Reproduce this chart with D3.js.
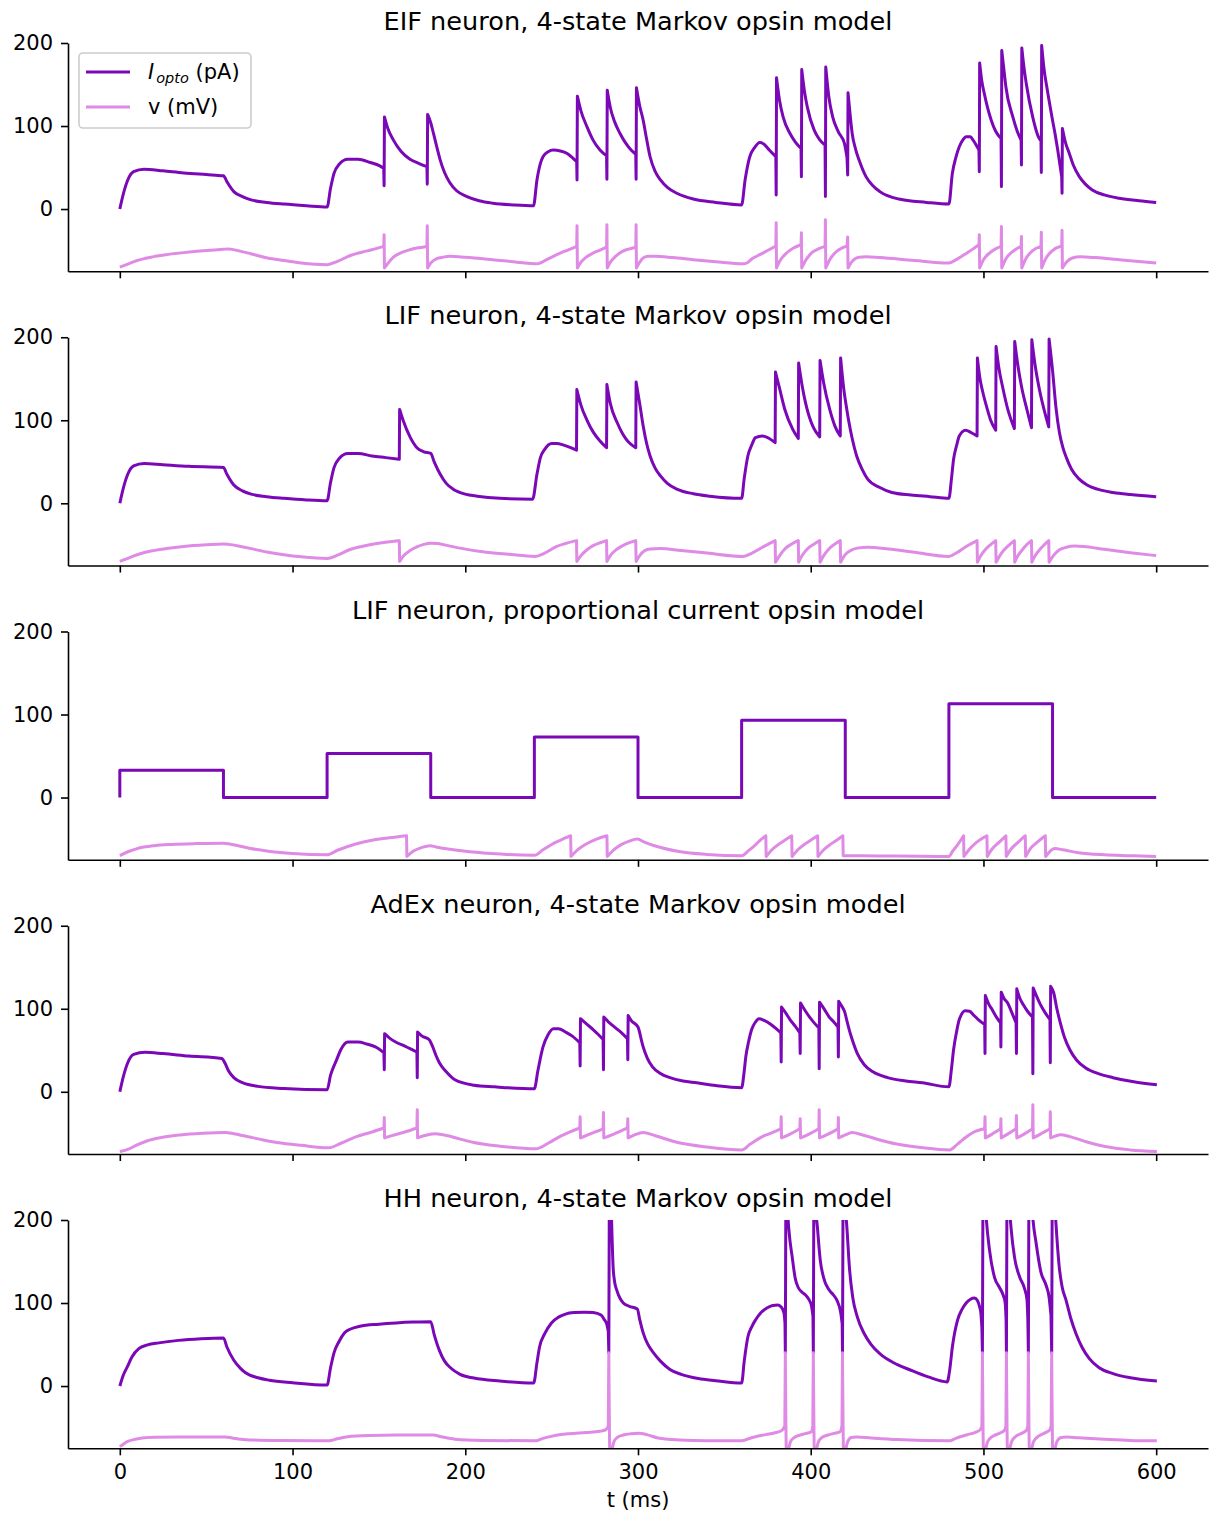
<!DOCTYPE html>
<html>
<head>
<meta charset="utf-8">
<script src="https://cdn.jsdelivr.net/npm/d3@7"></script>
<style>
body { margin: 0; background: #fff; }
svg text { font-family: "DejaVu Sans", sans-serif; fill: #000; }
</style>
</head>
<body>
<svg id="chart" width="1210" height="1515"></svg>
<script>
'use strict';

// ---- data (t in ms) ----
var panelTitles = [
    "EIF neuron, 4-state Markov opsin model",
    "LIF neuron, 4-state Markov opsin model",
    "LIF neuron, proportional current opsin model",
    "AdEx neuron, 4-state Markov opsin model",
    "HH neuron, 4-state Markov opsin model"
];
var xTicks = [0, 100, 200, 300, 400, 500, 600];
var yTicks = [0, 100, 200];
var seriesNames = ["I_opto (pA)", "v (mV)"];

var eifI = [[0,0],[2,18],[4.6,35],[8,45],[14,48],[25,46],[37,43.5],[50,41.5],[60,40],
    [62,33],[66,21],[71,15],[76,11],[85,8],[95,6],[108,4],[120,2.5],
    [122,25],[124,43],[127,54],[132,60],[138,60],[145,56],[150.5,52],[152.8,49],[153,28],[153.2,111],
    [155,98],[158.4,83],[163,69],[168,60],[173,55],[177.8,51],[178,30],[178.2,114],
    [180,104],[181.6,91],[183.5,75],[185.5,59],[188,44],[191,32],[195,22],[201,15],[208,10],[216,7],[228,5],[239.5,4],
    [241.5,35],[243.5,55],[245,63],[248,69],[251,71],[255,70],[259,67],[262,62],[264.5,57],[264.7,35],[264.9,136],
    [267,118],[270.5,99],[274,83],[278,71],[281.8,64],[282,36],[282.2,143],
    [284,122],[286.5,105],[289.6,91],[293,79],[296,71],[298.7,66],[298.9,36],[299.1,146],
    [301,124],[303,107],[305,84],[307,63],[310,45],[313,35],[317,26],[322.5,19],[332,12],[345,8],[360,5],
    [362,35],[364.7,63],[367.5,74],[370.5,80],[373,78],[376,71],[379.8,63],[380,17],[380.2,158],
    [382,130],[384,111],[388,91],[391,81],[394.4,73],[394.6,39],[394.8,168],
    [396.5,140],[398,123],[402,95],[405,84],[408.3,77],[408.5,15],[408.7,171],
    [410.5,135],[412.7,111],[416,93],[419.5,79],[421,62],[421.4,41],[421.6,140],
    [423,110],[424,91],[426,72],[428,59],[432,39],[436,28],[440,21],[451,12],[467,8],[480,6],
    [482,43],[484,62],[486,75],[488,83],[490,87],[492.5,87],[494,83],[497.4,71],[497.6,45],[497.8,176],
    [499,155],[500.5,139],[504.5,107],[507,94],[510.2,85],[510.4,27],[510.6,191],
    [512,165],[513,147],[517,111],[519.5,94],[521.8,83],[522,53],[522.2,194],
    [523.5,170],[524.8,151],[528.5,111],[531.8,87],[533.3,82],[533.5,44],[533.7,197],
    [535,170],[537,143],[540,107],[541.5,90],[543,71],[545.3,39],[545.5,19],[545.7,97],
    [547.5,80],[549.7,67],[552,53],[555.5,39],[559,30],[563,23],[570,17],[578.6,13],[590,10],[600,8]];

var eifV = [[0,-70],[5,-66],[10,-62],[18,-58],[27,-55],[37,-52.5],[50,-50],[60,-48.5],[63,-48],[70,-51],[78,-55],[85.5,-59],[95,-62],[105,-65],[120,-67],
    [126,-63],[133.5,-56],[140,-52],[146,-49],[152.8,-45],[153,-31],[153.2,-71],
    [155,-66],[158.4,-58],[163,-52.5],[168,-49],[172,-47],[177.8,-45],[178,-20],[178.2,-71],
    [180,-65],[183.7,-59.5],[187,-58],[191,-57],[200,-58],[216,-61],[230,-64],[241.5,-66],
    [248,-60],[255,-53],[260,-49],[264.5,-45],[264.7,-20],[264.9,-71],
    [267,-64],[270,-58],[274,-53],[278,-49.5],[281.8,-46],[282,-19],[282.2,-71],
    [284,-64],[287,-57],[291,-51],[295,-48],[298.7,-46],[298.9,-19],[299.1,-71],
    [301,-64],[303,-59],[306,-57],[310,-57],[320,-58.5],[332,-61],[345,-63.5],[361,-66],
    [363,-65],[366,-60],[370.5,-55],[375,-50],[379.8,-44.6],[380,-16.5],[380.2,-71],
    [382,-63],[386,-53],[390,-47],[394.4,-43],[394.6,-28.5],[394.8,-71],
    [397,-62],[401,-52],[405,-47.5],[408.3,-45],[408.5,-13],[408.7,-71],
    [411,-61],[415,-51],[418,-47],[421,-44.6],[421.4,-33.7],[421.6,-71],
    [424,-63],[428,-58],[432,-57.5],[440,-58.5],[460,-62],[480,-65],
    [485,-60],[490,-53.5],[494,-48],[497.4,-43],[497.6,-31],[497.8,-71],
    [500,-61],[503.5,-53],[507,-48],[510.2,-45],[510.4,-21],[510.6,-71],
    [513,-60],[517,-51],[521.8,-45],[522,-33],[522.2,-71],
    [524.5,-60],[528.5,-50],[533.3,-45],[533.5,-28],[533.7,-71],
    [536,-60],[540,-50],[545.3,-44.6],[545.5,-25.6],[545.7,-71],
    [548,-64],[551.5,-59],[556,-57.5],[565,-58.5],[580,-61.5],[600,-65]];

var lifI = [[0,0],[2,18],[4.6,35],[8,45],[14,48],[25,46.5],[40,44.5],[60,43],
    [62,35],[66,22],[71,15],[76,11],[85,8],[95,6],[108,4],[120,3],
    [122,25],[124,43],[127,54],[132,60],[138,60],[146,57],[154,55],[161.8,53],[162,113],
    [164,100],[168,80],[172,67],[176,62],[180,60],[182,50],[185.5,35],[189,24],[193,17],[200,11],[207,8.5],[220,6],[239,5],
    [241.5,35],[243.5,55],[246,65],[250,72],[253,72],[257,70],[261,67],[264.4,64],[264.6,137],
    [267,118],[270.5,100],[274,86],[278,75],[281.8,67],[282,143],
    [284,120],[288,97],[291,84],[293.6,76],[296,71],[298.7,67],[298.9,146],
    [301,120],[303,93],[305,72],[307,57],[310,42],[313,33],[317,24],[322.5,17],[332,11.5],[341.6,8.6],[360,6],
    [361.5,30],[363.6,57],[366,71],[368,79],[372,81],[376,78],[379.4,73],[379.6,158],
    [382,138],[385,113],[389.6,89],[392.8,78],[393,169],
    [395,142],[397,121],[401.6,91],[405.2,80],[405.4,172],
    [407.5,145],[411,113],[414,93],[417.1,81],[417.3,175],
    [419,140],[420.5,118],[422,99],[424,78],[426.6,57],[430,40],[433,29],[440,19],[447,13],[458,10],[469,8],[480,6],
    [481.5,30],[482.7,53],[484.5,70],[486,81],[489.6,88],[493,85],[496.3,81],[496.5,175],
    [498,150],[499.6,134],[502,115],[504,101],[507.1,88],[507.3,189],
    [509,162],[511,141],[514.5,110],[517.9,90],[518.1,195],
    [520,165],[522,141],[525.5,110],[527.8,91],[528,197],
    [530,165],[532.4,137],[535.8,107],[537.8,92],[538,198],
    [540,160],[542,115],[544,85],[546,67],[548,55],[551,41],[555,30],[560,22],[566,17],[575,13],[585,10.5],[600,8]];

var lifV = [[0,-70],[5,-66],[10,-62],[18,-57.5],[27,-54.5],[37,-52],[50,-50],[60,-49],[63,-49.5],[70,-52],[78,-55.5],[86,-59],[95,-62],[105,-64.5],[120,-66.5],
    [126,-62.5],[133,-56],[140,-52],[147,-49],[155,-46.5],[161.8,-45],[162,-70],
    [164,-64],[168,-57],[172,-52.5],[176,-49.5],[180,-48],[184,-48.5],[190,-51],[197,-54],[210,-58.5],[225,-61.5],[240.5,-64],
    [246,-60],[253,-52],[258,-48.5],[264.4,-45],[264.6,-70],
    [267,-63],[270.5,-56],[274,-51],[278,-47.5],[281.8,-45],[282,-70],
    [284,-63],[288,-55],[292,-50],[295.5,-47],[298.7,-45],[298.9,-70],
    [301,-63],[304,-57],[307,-55],[313,-54.5],[325,-57],[340,-60],[361,-64],
    [366,-60],[372,-53],[376,-48.5],[379.4,-45],[379.6,-71],
    [382,-63],[385,-55],[389,-49],[392.8,-45],[393,-71],
    [395,-63],[398,-55],[402,-49],[405.2,-45],[405.4,-71],
    [407.5,-63],[410.5,-55],[414,-49],[417.1,-45],[417.3,-71],
    [419.5,-63],[423,-57],[427,-54],[433,-53],[445,-55],[460,-59],[480,-64],
    [485,-59],[490,-52],[493.5,-48],[496.3,-45],[496.5,-71],
    [498.5,-63],[501,-56],[504,-50],[507.1,-45],[507.3,-71],
    [509.5,-63],[512,-56],[515,-50],[517.9,-45],[518.1,-71],
    [520,-63],[522.5,-56],[525,-50],[527.8,-45],[528,-71],
    [530,-63],[532.5,-56],[535.2,-50],[537.8,-45],[538,-71],
    [540.5,-63],[544,-56],[548,-53],[552.6,-51.5],[558,-52],[570,-55.5],[585,-59.5],[600,-63]];

var propI = [[0,0],[0,33],[60,33],[60,0],[120,0],[120,53],[180,53],[180,0],[240,0],[240,73],[300,73],[300,0],
    [360,0],[360,93],[420,93],[420,0],[480,0],[480,113],[540,113],[540,0],[600,0]];

var propV = [[0,-70],[5,-65],[10,-61.5],[20,-58],[30,-56.5],[45,-55.5],[60,-55],[65,-56.5],[75,-61],[87,-65],[100,-67.5],[120,-69],
    [126,-63.5],[136.6,-56],[146,-51.5],[156,-48.5],[166,-46],[166.2,-71],
    [170,-64.5],[175,-60],[179.6,-58],[183,-59.5],[190,-62],[199,-64.5],[215,-67.5],[240,-69.5],
    [245,-63],[250,-56.5],[255,-51.5],[261,-46],[261.2,-71],
    [265,-63],[270,-56],[276,-50],[282,-46],[282.2,-71],
    [286,-63],[290,-57],[295,-52.5],[299.6,-50],[304,-54],[311,-59],[323.7,-65],[340,-68.5],[360,-70],
    [364,-64],[368,-57],[371,-51],[374,-46],[374.2,-71],
    [378,-62],[382,-55.5],[386,-50],[389,-46],[389.2,-71],
    [393,-62],[397,-55.5],[401,-50],[404,-46],[404.2,-71],
    [408,-62],[412,-55.5],[416,-50],[418.6,-46],[418.8,-70],[430,-70],[450,-70.5],[480,-71],
    [482,-65],[485,-57],[488.5,-46],[488.7,-71],
    [492,-62],[496,-54],[502,-46],[502.2,-71],
    [505,-62],[509,-54],[513,-46],[513.2,-71],
    [516,-62],[520,-54],[524.2,-46],[524.4,-71],
    [527,-62],[531,-54],[535.8,-46],[536,-71],
    [538,-66],[541.4,-61.5],[546,-63],[555,-66.5],[570,-69],[585,-70],[600,-71]];

var adexI = [[0,0],[2,18],[4.6,35],[8,45],[14.6,47.5],[25,46],[40,43],[59,40],
    [61,34],[63,25],[66,17],[71,11],[80,6.5],[95,4],[120,2.4],
    [122,20],[125.5,38.5],[128,51],[132,60],[138,60],[143,57.5],[148,54],[152.9,47],[153.1,26.5],[153.3,70],
    [156,65],[159.7,60],[165,55],[170,50],[172,48],[172.2,17],[172.4,72],
    [175,67],[179,63],[181,55],[183,44],[185,35],[189,24],[194,14.5],[205,8],[217,6],[240,3.6],
    [242,25],[245,54],[248,69],[251,76],[254,76],[258,72],[262,67],[266.3,59],[266.5,31],[266.7,88],
    [270,82],[274,75],[277,69],[279.8,63],[280,26.5],[280.2,90],
    [283,84],[287,77],[290.5,71],[293.9,64],[294.1,38.5],[294.3,92],
    [296,86],[300,78],[302,62],[303,54],[305.5,40],[308.4,30],[313,22],[318.5,17],[326,13],[334,10.8],[345,7.5],[360,5],
    [361.5,25],[362.4,42],[364,60],[365.8,75],[368,84],[370,88],[373,86],[377,81],[380,76],[382.7,71],[382.9,36],[383.1,102],
    [385.5,95],[388,87],[391,79],[393.7,71],[393.9,46],[394.1,107],
    [397,97],[399.7,89],[402,83],[404.7,77],[404.9,27.7],[405.1,108],
    [408,99],[410.7,90],[413,85],[415.8,78],[416,42],[416.2,109],
    [418,103],[419.7,96],[421,85],[422.5,73],[424,63],[427,46],[431,32.5],[436,24],[444.5,17],[455,13],[464.7,10.8],[480,6],
    [481.5,28],[482.7,50.6],[484.5,73],[486,87],[489.5,97.6],[492,97],[494,93],[497,87],[500.7,81],[500.9,46],[501.1,116],
    [503,106],[505,99],[507.5,90],[509.9,83],[510.1,54],[510.3,120],
    [512,112],[514,107],[516.5,95],[518.9,83],[519.1,46],[519.3,124],
    [521,113],[523,105],[525.5,97],[528.4,90],[528.6,21.7],[528.8,125],
    [531,114],[533,105],[535.5,96],[538.5,87],[538.7,35],[538.9,127],
    [540.7,119],[542.5,100],[544.5,83],[547,65],[550,50.6],[554,38],[559,29],[567,21.5],[575,17],[587,12],[600.4,8.4]];

var adexV = [[0,-72],[5,-69],[10,-64],[16,-59],[22.6,-55.6],[35,-52],[48,-50],[61,-49],[66,-50.5],[75,-54.5],[83,-58],[91,-61],[105,-64.5],[121,-67.5],
    [128,-62],[137,-54],[145,-49],[152.9,-43.6],[153.1,-31],[153.3,-55.6],
    [158,-52.5],[165,-48.5],[172,-43.6],[172.2,-21.7],[172.4,-55.6],
    [176,-53],[182.6,-50.6],[190,-53],[197,-57],[205,-61],[220,-65.5],[240.8,-68.7],
    [248,-62],[255.5,-53],[261,-48],[266.3,-43.6],[266.5,-30],[266.7,-55.6],
    [272,-51],[279.8,-44.6],[280,-25],[280.2,-55.6],
    [286,-51],[293.9,-43.6],[294.1,-32.5],[294.3,-55.6],
    [298,-52],[303,-49],[310,-53],[323,-61],[340,-66.5],[360,-70],
    [365,-63],[372,-54],[378,-49],[382.7,-44.6],[382.9,-30],[383.1,-55.6],
    [388,-51],[393.7,-44.6],[393.9,-32.5],[394.1,-55.6],
    [399,-51],[404.7,-44.6],[404.9,-21.7],[405.1,-55.6],
    [410,-51],[415.8,-44.6],[416,-31],[416.2,-55.6],
    [420,-52],[424,-49],[430,-52],[440,-58],[449,-62.6],[465,-67.5],[480.4,-70],
    [485,-63],[490,-54.5],[494,-49],[500.7,-44.6],[500.9,-30],[501.1,-55.6],
    [505,-51],[509.9,-44.6],[510.1,-32.5],[510.3,-55.6],
    [514,-51],[518.9,-44.6],[519.1,-28.5],[519.3,-55.6],
    [523.5,-51],[528.4,-44.6],[528.6,-15.7],[528.8,-55.6],
    [533,-51],[538.5,-44.6],[538.7,-24],[538.9,-55.6],
    [541.5,-53.5],[544.5,-51.8],[550,-54],[560,-60.5],[570.5,-66],[585,-70],[600.4,-72]];

var hhI = [[0,0],[2,13],[4.3,23],[7,35],[11,45],[16,49.5],[22.6,52],[34,55],[47,57],[60,58],
    [62,47],[66,31],[70,21],[73,15.6],[80,10],[86.6,7],[100,4],[120,1.2],
    [122,22],[124,40],[127,54],[130,64],[134,69],[139,72],[150,74.5],[160,76],[170,77],[180,77.5],
    [182,62],[185,43],[188,30],[191.6,21.7],[197,14],[205,9.6],[220,6],[239.6,3.6],
    [241.5,28],[243,47],[246,63],[249.9,76],[254,83],[258,86.7],[263,88.5],[269,89],[274,88.5],[278.6,85.5],[280.5,80],[282,74],[282.8,66],[283.1,40],[283.5,290],
    [284.5,215],[285.6,143],[286.5,125],[287.7,115.6],[289.5,106],[291.5,100],[295,96],[299.6,92.7],
    [301,80],[303,64],[305.5,51],[309,40],[313,30],[318.5,20],[325,14],[335,9],[345,6.5],[360,3.6],
    [361.5,30],[363.6,59],[366,72],[368,79.5],[371,88],[374.6,94],[378,97],[381,97.5],[383,95],[384.5,88],[385.1,76],[385.3,40],[385.7,290],
    [386.8,205],[387.5,185],[389.3,155],[391,130],[392.7,119],[395,113],[397,109.6],[399,104],[400.5,96],[401.3,84],[401.5,40],[401.9,290],
    [403,215],[404,188],[405.5,152],[407.4,131],[410.7,115.6],[413,110],[415,104],[417.4,88],[418.2,75],[418.4,40],[418.8,290],
    [420,215],[420.8,195],[422.5,140],[424.3,107],[427,83],[431,63],[435,50],[440,39],[448,28],[458,19],[468,11],[479,5],
    [480.5,20],[482,47],[485,79.5],[487.5,92],[490,100],[492.5,104.5],[494.8,106],[496.5,103],[497.8,95],[498.5,88],[499.1,70],[499.4,40],[499.8,290],
    [500.8,230],[501.7,200],[503.5,164],[506.4,131],[509.2,119],[511.5,109],[512.6,100],[513.1,80],[513.3,40],[513.7,290],
    [514.8,225],[516,190],[518,155],[521,131],[523.7,118],[525.2,104],[525.7,80],[526,40],[526.4,290],
    [527.5,240],[528.5,205],[530.5,172],[533.3,137],[536.2,121.7],[538,107],[539.1,85],[539.5,40],[539.9,290],
    [541,230],[542,195],[543.9,143],[545.5,120],[547.8,103.6],[550.5,82],[553.6,63],[557,47],[561.3,33],[567,22],[575,15],[585,10],[600.4,6]];

var hhV = [[0,-73],[2,-70],[4.3,-67],[8,-64.5],[13,-62.6],[20,-61.8],[34,-61.4],[61,-61.4],[65,-62.5],[70,-64],[77.5,-65],[95,-65.7],[121,-66],
    [126,-63.5],[132,-61],[145,-59.5],[160,-59],[181.5,-59],[186,-61],[194,-64],[210,-65.5],[240.8,-66],
    [245,-63],[251,-60],[260,-57.5],[270,-56],[278,-54.5],[281.5,-52.5],[282.8,-48],[283.1,40],[283.8,-88],[284.9,-77],[286.1,-67],[288,-62],[291.5,-59],[296,-57.5],[300.5,-57],[305,-58.5],[311.6,-62.6],[324,-65],[340,-66],[360,-66],
    [364,-63.5],[368,-61],[374,-58.5],[380,-56],[383.5,-53],[385,-48],[385.3,40],[386,-88],[387.1,-77],[388.3,-67],[390.5,-62],[394,-59],[397.5,-57],[400.5,-55],[401.2,-48],[401.5,40],[402.2,-88],[403.3,-77],[404.5,-67],[406.5,-62],[410,-59],[413.5,-57],[417,-55],[418.1,-48],[418.4,40],[419.1,-88],[420.2,-77],[421.4,-67],[423.5,-62],[426.6,-61.4],[435,-62.6],[450,-64.5],[480.4,-66],
    [484,-63],[490,-59],[495,-56],[498,-53],[499.1,-48],[499.4,40],[500.1,-88],[501.2,-77],[502.4,-67],[505,-61],[509.2,-57],[512.3,-53],[513,-48],[513.3,40],[514,-88],[515.1,-77],[516.3,-67],[518.5,-61],[522,-57],[525,-53],[525.7,-48],[526,40],[526.7,-88],[527.8,-77],[529,-67],[531.5,-61],[535,-57],[538.4,-53],[539.2,-48],[539.5,40],[540.2,-88],[541.3,-77],[542.5,-67],[545,-62],[548,-61.4],[555,-62.2],[570,-64],[585,-65.5],[600.4,-66]];

var panelData = [[eifI, eifV], [lifI, lifV], [propI, propV], [adexI, adexV], [hhI, hhV]];

// ---- layout ----
var colI = "#7a08b6", colV = "#df8ae5";
var left = 68, right = 1208;
var firstTop = 43, panelH = 228.3, panelStep = 294.25;
var tickFont = 21, titleFont = 25.6;

var svg = d3.select("#chart");
var x = d3.scaleLinear().domain([-30, 630]).range([left, right]);

// smooth pieces joined by straight near-vertical jumps (spikes / resets)
function tracePath(pts, y) {
    var pieces = [], cur = [pts[0]];
    for (var i = 1; i < pts.length; i++) {
        if (pts[i][0] - pts[i - 1][0] < 0.45) { pieces.push(cur); cur = []; }
        cur.push(pts[i]);
    }
    pieces.push(cur);
    var line = d3.line()
        .x(function(d) { return x(d[0]); })
        .y(function(d) { return y(d[1]); })
        .curve(d3.curveMonotoneX);
    return pieces.map(function(p, k) {
        var d = p.length > 1 ? line(p) : "M" + x(p[0][0]) + "," + y(p[0][1]);
        return k ? "L" + d.slice(1) : d;
    }).join("");
}

panelData.forEach(function(pd, i) {
    var top = firstTop + i * panelStep;
    var y = d3.scaleLinear().domain([-75, 200]).range([top + panelH, top]);
    var g = svg.append("g");

    g.append("clipPath").attr("id", "clip" + i)
        .append("rect")
        .attr("x", left).attr("y", top)
        .attr("width", right - left).attr("height", panelH);

    var lines = g.append("g").attr("clip-path", "url(#clip" + i + ")");
    lines.append("path")
        .attr("d", tracePath(pd[0], y))
        .attr("fill", "none").attr("stroke", colI)
        .attr("stroke-width", 3).attr("stroke-linejoin", "round");
    lines.append("path")
        .attr("d", tracePath(pd[1], y))
        .attr("fill", "none").attr("stroke", colV)
        .attr("stroke-width", 3).attr("stroke-linejoin", "round");

    var yAxis = g.append("g")
        .attr("transform", "translate(" + left + ",0)")
        .call(d3.axisLeft(y).tickValues(yTicks).tickSize(7).tickSizeOuter(0).tickPadding(8));
    var xAxis = g.append("g")
        .attr("transform", "translate(0," + (top + panelH) + ")")
        .call(d3.axisBottom(x).tickValues(xTicks).tickSize(7).tickSizeOuter(0).tickPadding(9)
            .tickFormat(i === 4 ? d3.format("d") : function() { return ""; }));

    [yAxis, xAxis].forEach(function(a) {
        a.attr("font-size", null).attr("font-family", null);
        a.selectAll("path, line").attr("stroke", "#000").attr("stroke-width", 1.6);
        a.selectAll("text").attr("font-size", tickFont).attr("fill", "#000");
    });

    g.append("text")
        .attr("x", (left + right) / 2).attr("y", top - 13)
        .attr("text-anchor", "middle").attr("font-size", titleFont)
        .text(panelTitles[i]);
});

svg.append("text")
    .attr("x", (left + right) / 2).attr("y", 1507)
    .attr("text-anchor", "middle").attr("font-size", tickFont)
    .text("t (ms)");

// legend in the first panel
var leg = svg.append("g");
leg.append("rect")
    .attr("x", 79).attr("y", 53).attr("width", 172).attr("height", 75).attr("rx", 4)
    .attr("fill", "#fff").attr("fill-opacity", 0.8)
    .attr("stroke", "#cccccc").attr("stroke-width", 1.6);
[colI, colV].forEach(function(c, k) {
    var ly = 72 + k * 35;
    leg.append("line")
        .attr("x1", 86).attr("x2", 130).attr("y1", ly).attr("y2", ly)
        .attr("stroke", c).attr("stroke-width", 3);
});
var t1 = leg.append("text").attr("x", 148).attr("y", 79).attr("font-size", tickFont);
t1.append("tspan").attr("font-style", "italic").text("I");
t1.append("tspan").attr("font-style", "italic").attr("font-size", 14.5).attr("dx", 2).attr("dy", 4).text("opto");
t1.append("tspan").attr("dy", -4).text(" (pA)");
leg.append("text").attr("x", 148).attr("y", 114).attr("font-size", tickFont).text(seriesNames[1]);
</script>
</body>
</html>
